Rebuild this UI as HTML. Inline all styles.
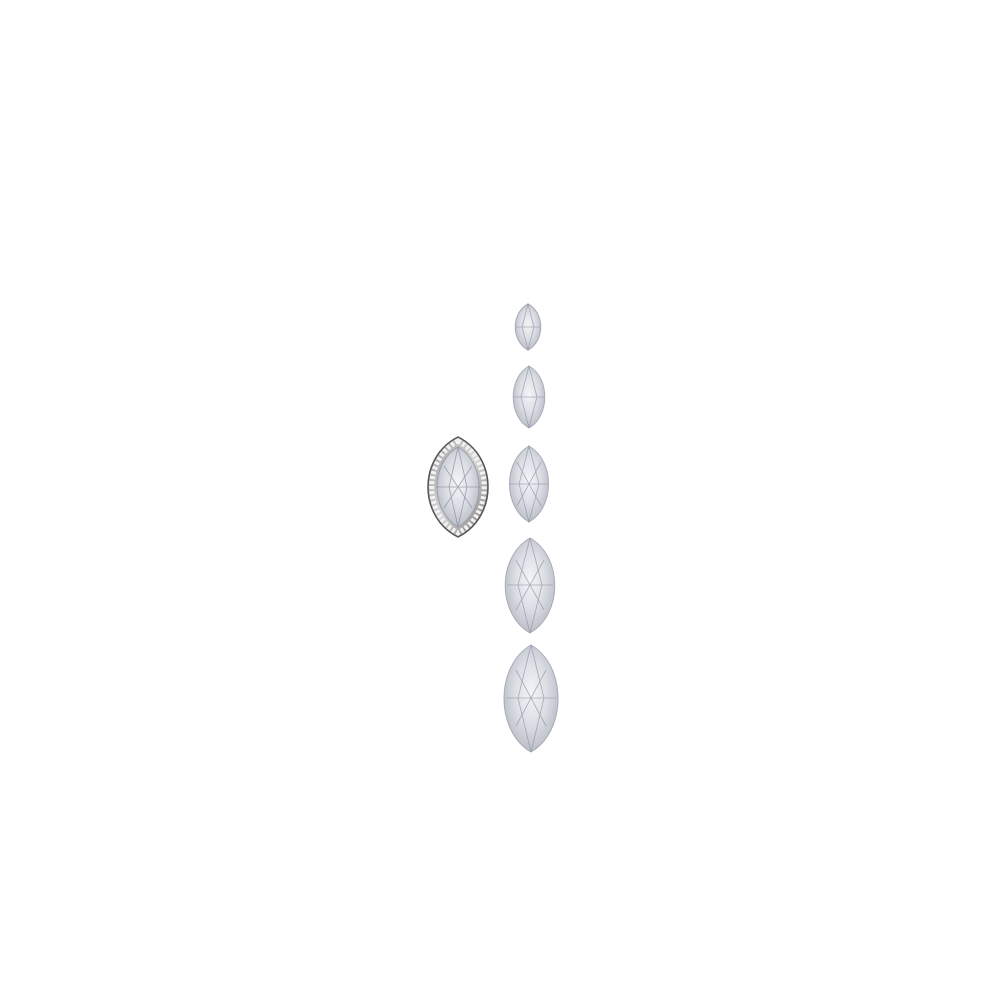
<!DOCTYPE html>
<html><head><meta charset="utf-8"><style>
html,body{margin:0;padding:0;background:#fff;}
svg{display:block;}
</style></head><body>
<svg width="1000" height="1000" viewBox="0 0 1000 1000" xmlns="http://www.w3.org/2000/svg">
<defs>
<radialGradient id="g" cx="50%" cy="45%" r="60%">
<stop offset="0" stop-color="#f4f5f8"/>
<stop offset="0.5" stop-color="#dcdee5"/>
<stop offset="1" stop-color="#b4b7c2"/>
</radialGradient>
<linearGradient id="m" x1="0" y1="0" x2="1" y2="1">
<stop offset="0" stop-color="#9a9a9a"/>
<stop offset="0.5" stop-color="#d8d8d8"/>
<stop offset="1" stop-color="#7a7470"/>
</linearGradient>
</defs>
<rect width="1000" height="1000" fill="#fff"/>
<g stroke="#a8abb6" stroke-width="1" fill="url(#g)">
<path d="M528,304 C545,313 545,341 528,350 C511,341 511,313 528,304Z"/>
<path d="M529,366 C550,378 550,416 529,428 C508,416 508,378 529,366Z"/>
<path d="M529,446 C555,461 555,507 529,522 C503,507 503,461 529,446Z"/>
<path d="M530,538 C563,557 563,614 530,633 C497,614 497,557 530,538Z"/>
<path d="M531,645 C567,666 567,731 531,752 C495,731 495,666 531,645Z"/>
</g>
<g stroke="#8e92a0" stroke-width="0.8" fill="none" opacity="0.7">
<path d="M528,304 L522,327 L528,350 L534,327Z M516,327 L540,327"/>
<path d="M529,366 L521,397 L529,428 L537,397Z M514,397 L544,397"/>
<path d="M529,446 L519,484 L529,522 L539,484Z M510,484 L548,484 M517,462 L541,506 M541,462 L517,506"/>
<path d="M530,538 L518,585 L530,633 L542,585Z M507,585 L553,585 M516,560 L544,610 M544,560 L516,610"/>
<path d="M531,645 L518,698 L531,752 L544,698Z M506,698 L556,698 M516,670 L546,726 M546,670 L516,726"/>
</g>
<path d="M458,437 C498,457 498,517 458,537 C418,517 418,457 458,437Z" fill="url(#m)" stroke="#555" stroke-width="1.5"/>
<path d="M458,441 C493,459 493,515 458,533 C423,515 423,459 458,441Z" fill="none" stroke="#f2f2f2" stroke-width="5" stroke-dasharray="3 2"/>
<path d="M458,447 C486,463 486,511 458,527 C430,511 430,463 458,447Z" fill="url(#g)" stroke="#9a9da8" stroke-width="1"/>
<path d="M458,447 L449,487 L458,527 L467,487Z M436,487 L480,487 M444,466 L472,508 M472,466 L444,508" fill="none" stroke="#7f8494" stroke-width="0.8" opacity="0.7"/>
</svg>
</body></html>
